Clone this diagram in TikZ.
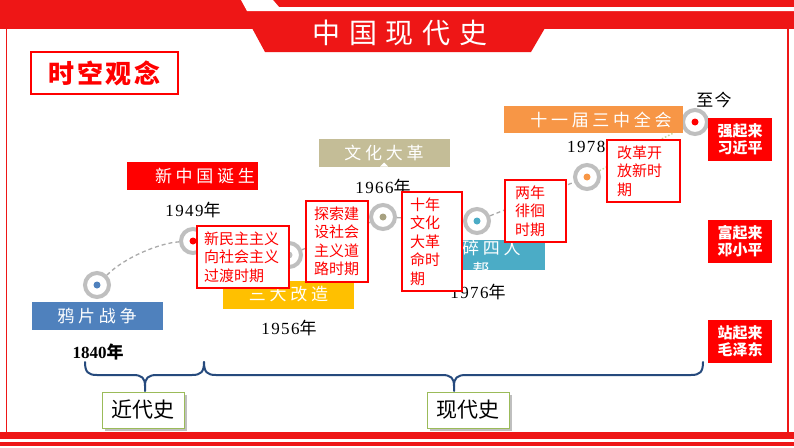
\documentclass[tikz,border=0pt]{standalone}
\usepackage{fontspec}
\setmainfont{Liberation Serif}
\newfontfamily\cjk{Noto Sans CJK SC}
\newfontfamily\cjkls[LetterSpace=22]{Noto Sans CJK SC}
\newfontfamily\cjktitle[LetterSpace=32]{Noto Sans CJK SC}
\newfontfamily\cjkhead[LetterSpace=11]{Noto Sans CJK SC}
\newfontfamily\yearfont[LetterSpace=8]{Liberation Serif}
\newfontfamily\cjkyr[LetterSpace=8]{Noto Sans CJK SC}
\definecolor{bandred}{RGB}{238,22,22}
\definecolor{pred}{RGB}{255,0,0}
\definecolor{opblue}{RGB}{79,129,189}
\definecolor{goldc}{RGB}{255,192,0}
\definecolor{khaki}{RGB}{196,189,151}
\definecolor{tealc}{RGB}{75,172,198}
\definecolor{orng}{RGB}{247,150,70}
\definecolor{ringgray}{RGB}{191,191,191}
\definecolor{dashgray}{RGB}{170,170,170}
\definecolor{bracecol}{RGB}{38,74,125}
\definecolor{greenb}{RGB}{155,187,89}
\definecolor{dotgreen}{RGB}{196,215,155}
\pgfdeclarelayer{bg}
\pgfsetlayers{bg,main}
\tikzset{
  ring/.style={circle, draw=ringgray, line width=4pt, fill=white, minimum size=24pt, inner sep=0pt},
  dotc/.style={circle, fill=#1, minimum size=7pt, inner sep=0pt},
  tag/.style={fill=#1, text=white, minimum width=131pt, minimum height=28pt, inner sep=0pt, font=\cjkls\fontsize{17}{17}\selectfont},
  tagtext/.style={text=white, inner sep=0pt, font=\cjkls\fontsize{17}{17}\selectfont},
  yearlbl/.style={inner sep=0pt, font=\yearfont\fontsize{17}{17}\selectfont},
  callout/.style={draw=pred, line width=2.5pt, fill=white, text=pred, inner xsep=0pt, inner ysep=0pt, align=left, font=\cjk\fontsize{15}{18.5}\selectfont},
  leader/.style={fill=pred, text=white, minimum width=64pt, minimum height=43pt, inner sep=0pt, align=center, font=\cjk\bfseries\fontsize{15}{17}\selectfont},
  linkline/.style={draw=dashgray, line width=1.3pt, dash pattern=on 4pt off 3pt},
  bracestyle/.style={draw=bracecol, line width=2pt, line cap=round, line join=round},
  erabox/.style={draw=greenb, line width=1pt, fill=white, minimum width=82pt, minimum height=36pt, inner sep=0pt, font=\cjk\fontsize{21}{21}\selectfont}
}
\begin{document}
\begin{tikzpicture}[x=1pt,y=-1pt]
\useasboundingbox (0,0) rectangle (794,447);
\begin{pgfonlayer}{bg}
\fill[white] (0,0) rectangle (794,447);
\end{pgfonlayer}
% top band
\fill[bandred] (0,0) rectangle (794,28.5);
\fill[white] (241,0) -- (273,0) -- (279,7) -- (794,7) -- (794,11) -- (247,11) -- cycle;
\fill[bandred] (252,28) -- (545,28) -- (531,52) -- (265,52) -- cycle;
\node[text=white, inner sep=0pt, font=\cjktitle\fontsize{28}{28}\selectfont] (title) at (400,33) {中国现代史};
% frame
\draw[bandred, line width=1.5pt] (6.5,28) -- (6.5,432);
\draw[bandred, line width=1.5pt] (788,28) -- (788,432);
% bottom band
\fill[bandred] (0,431.5) rectangle (794,439);
\fill[bandred] (0,442) rectangle (794,445.5);
% heading
\node[draw=pred, line width=2pt, minimum width=147pt, minimum height=42pt, inner sep=0pt, text=pred, font=\cjkhead\bfseries\fontsize{26}{26}\selectfont] (head) at (104.5,73) {时空观念};
% timeline circles
\node[ring] (c1) at (97,285) {};
\node[ring] (c2) at (193,241) {};
\node[ring] (c3) at (289,255) {};
\node[ring] (c4) at (383,217) {};
\node[ring] (c5) at (477,221) {};
\node[ring] (c6) at (587,177) {};
\node[ring] (c7) at (695,122) {};
% connectors (behind the circles)
\begin{pgfonlayer}{bg}
\draw[linkline] (c1) .. controls (125,257) and (160,243) .. (c2);
\draw[linkline] (c2) -- (c3);
\draw[linkline] (c3) -- (c4);
\draw[linkline] (c4) -- (c5);
\draw[linkline] (c5) -- (c6);
\draw[draw=dotgreen, line width=1.5pt, dotted] (c6) -- (c7);
\end{pgfonlayer}
\node[dotc=opblue] (d1) at (c1) {};
\node[dotc=pred] (d2) at (c2) {};
\node[dotc=ringgray] (d3) at (c3) {};
\node[dotc=khaki!85!black] (d4) at (c4) {};
\node[dotc=tealc] (d5) at (c5) {};
\node[dotc=orng] (d6) at (c6) {};
\node[dotc=pred] (d7) at (c7) {};
% event tags
\node[tag=opblue] (t1) at (97,316) {鸦片战争};
\node[fill=pred, minimum width=131pt, minimum height=28pt, inner sep=0pt] (t2) at (192.5,176) {};
\node[tagtext] (t2txt) at (205,176) {新中国诞生};
\node[tag=goldc] (t3) at (288.5,294.5) {三大改造};
\node[tag=khaki] (t4) at (384,153) {文化大革};
\fill[white] (380,166.5) -- (384,162.5) -- (388,166.5) -- cycle;
\node[fill=tealc, minimum width=132pt, minimum height=30pt, inner sep=0pt] (t5) at (479,255) {};
\begin{scope}
  \clip (413,240) rectangle (545,270);
  \node[tagtext, align=center, font=\cjkls\fontsize{17}{22}\selectfont] (t5txt) at (481,259) {粉碎四人\\帮};
\end{scope}
\node[fill=orng, minimum width=179pt, minimum height=27pt, inner sep=0pt] (t6) at (593.5,119.5) {};
\node[tagtext] (t6txt) at (601,119.5) {十一届三中全会};
% years
\node[yearlbl, font=\bfseries\fontsize{17}{17}\selectfont] (y1) at (98,352) {1840{\cjk\bfseries 年}};
\node[yearlbl] (y2) at (193,210) {1949{\cjkyr 年}};
\node[yearlbl] (y3) at (289,328) {1956{\cjkyr 年}};
\node[yearlbl] (y4) at (383,187) {1966{\cjkyr 年}};
\node[yearlbl] (y5) at (478,292) {1976{\cjkyr 年}};
\node[yearlbl, anchor=west] (y6) at (567,147) {1978};
\node[inner sep=0pt, font=\cjkyr\fontsize{17}{17}\selectfont] (y7) at (714,100) {至今};
% callouts
\node[callout, minimum width=92pt, minimum height=62pt, text width=78pt] (p1) at (243,257) {新民主主义\\向社会主义\\过渡时期};
\node[callout, minimum width=62pt, minimum height=81pt, text width=46pt] (p2) at (337,241.5) {探索建\\设社会\\主义道\\路时期};
\node[callout, minimum width=60pt, minimum height=99pt, text width=44pt] (p3) at (432,241.5) {十年\\文化\\大革\\命时\\期};
\node[callout, minimum width=61pt, minimum height=62pt, text width=41pt] (p4) at (535.5,211) {两年\\徘徊\\时期};
\node[callout, minimum width=73pt, minimum height=62pt, text width=53pt] (p5) at (643.5,171) {改革开\\放新时\\期};
% leaders
\node[leader] (l1) at (740,139.5) {强起来\\习近平};
\node[leader] (l2) at (740,241.5) {富起来\\邓小平};
\node[leader] (l3) at (740,341) {站起来\\毛泽东};
% braces
\coordinate (b1l) at (85,362);
\coordinate (bmid) at (204,362);
\coordinate (b2r) at (703,362);
\coordinate (tip1) at (145,391);
\coordinate (tip2) at (454,391);
\draw[bracestyle] (b1l) .. controls (85,372) and (88,375) .. (97,375) -- (133,375) .. controls (142,375) and (145,378) .. (145,386) -- (tip1);
\draw[bracestyle] (bmid) .. controls (204,372) and (201,375) .. (192,375) -- (157,375) .. controls (148,375) and (145,378) .. (145,386);
\draw[bracestyle] (bmid) .. controls (204,372) and (207,375) .. (216,375) -- (442,375) .. controls (451,375) and (454,378) .. (454,386) -- (tip2);
\draw[bracestyle] (b2r) .. controls (703,372) and (700,375) .. (691,375) -- (466,375) .. controls (457,375) and (454,378) .. (454,386);
% era boxes
\fill[black!25] (145,412) ++(-40,-17) rectangle ++(82,36);
\node[erabox] (e1) at (143,410) {近代史};
\fill[black!25] (470,412) ++(-40,-17) rectangle ++(82,36);
\node[erabox] (e2) at (468,410) {现代史};
\end{tikzpicture}
\end{document}
